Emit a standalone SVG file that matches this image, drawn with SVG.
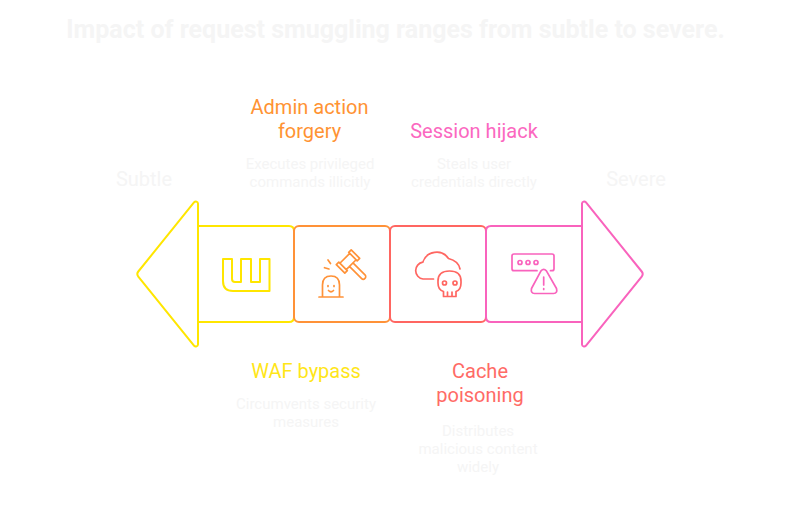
<svg xmlns="http://www.w3.org/2000/svg" width="792" height="506" viewBox="0 0 792 506">
<style>
text{font-family:Roboto,"Liberation Sans",sans-serif;text-anchor:middle}
.t{font-size:25px;font-weight:700;fill:#f5f5f5}
.h{font-size:20px}
.d{font-size:15px;fill:#f5f5f5}
.s{font-size:20px;fill:#f5f5f5}
.o{fill:none;stroke-width:2;stroke-linejoin:round;stroke-linecap:round}
.i{stroke-width:1.700}
.y{stroke:#ffe600}.r{stroke:#ff9238}.c{stroke:#ff6661}.p{stroke:#f963bd}
</style>
<rect width="792" height="506" fill="#fff"/>
<text class="t" x="395.500" y="38">Impact of request smuggling ranges from subtle to severe.</text>
<text class="s" x="144" y="186">Subtle</text>
<text class="s" x="636" y="186">Severe</text>
<g id="waf-bypass">
<path class="o y" d="M198 226V203.500A2.200 2.200 0 0 0 194.200 202.200L138.300 271.500A4 4 0 0 0 138.300 276.500L194.200 345.800A2.200 2.200 0 0 0 198 344.500V322"/>
<path class="o y" d="M198 226H289Q294 226 294 231V317Q294 322 289 322H198Z"/>
<path class="o y" d="M223 259H232V279Q232 282 235 282H241V259H251V282H260V259H269.500V291H233Q223 291 223 281Z"/>
<text class="h" x="306" y="378" fill="#ffe619">WAF bypass</text>
<text class="d" x="306" y="409">Circumvents security</text>
<text class="d" x="306" y="427">measures</text>
</g>
<g id="admin-action-forgery">
<rect class="o r" x="294" y="226" width="96" height="96" rx="5"/>
<path class="o i r" d="M319 297H343M322.500 297V285Q322.500 276 331 276Q339.500 276 339.500 285V297M328 285.500V286.500M334 285.500V286.500M328.500 290.500Q331 293 333.500 290.500M324.500 267.700L329 269M328 260L330.500 263.500"/>
<g transform="translate(348 261.500) rotate(-45)">
<path class="o i r" d="M-10.500 -6H-7V6H-10.500ZM7 -6H10.500V6H7ZM-7 -4.500H7V4.500H-7ZM-2.500 4.500V21.500A2.500 2.500 0 0 0 2.500 21.500V4.500"/>
</g>
<text class="h" x="309.500" y="114" fill="#ff9333">Admin action</text>
<text class="h" x="309.500" y="138" fill="#ff9333">forgery</text>
<text class="d" x="310" y="169">Executes privileged</text>
<text class="d" x="310" y="187">commands illicitly</text>
</g>
<g id="cache-poisoning">
<rect class="o c" x="390" y="226" width="96" height="96" rx="5"/>
<path class="o i c" d="M433.500 279H423A8.500 8.500 0 0 1 422.800 262.200A14.500 14.500 0 0 1 448.500 258.500Q458.500 261 460 269"/>
<path class="o i c" d="M443.500 296.500V291.500Q438 290 438 283V281Q438 271 449.500 271Q461 271 461 281V283Q461 290 456 291.500V296.500ZM447.500 292V296.500M452 292V296.500"/>
<circle class="o i c" cx="444.500" cy="283" r="2"/><circle class="o i c" cx="455" cy="283" r="2"/>
<text class="h" x="480" y="378" fill="#ff6b66">Cache</text>
<text class="h" x="480" y="402" fill="#ff6b66">poisoning</text>
<text class="d" x="478" y="436">Distributes</text>
<text class="d" x="478" y="454">malicious content</text>
<text class="d" x="478" y="472">widely</text>
</g>
<g id="session-hijack">
<path class="o p" d="M582 226H491Q486 226 486 231V317Q486 322 491 322H582Z"/>
<path class="o p" d="M582 226V203.500A2.200 2.200 0 0 1 585.800 202.200L641.700 271.500A4 4 0 0 1 641.700 276.500L585.800 345.800A2.200 2.200 0 0 1 582 344.500V322"/>
<path class="o i p" d="M537 270.700H514Q512 270.700 512 268.700V256Q512 254 514 254H552Q554 254 554 256V268.700Q554 270.700 552 270.700H550.500"/>
<circle class="o i p" cx="520" cy="262.500" r="2"/><circle class="o i p" cx="528" cy="262.500" r="2"/><circle class="o i p" cx="536" cy="262.500" r="2"/>
<path class="o i p" d="M541 270.800Q543.700 268 546.400 270.800L556.500 288.500Q557.800 293.300 553.500 293.500H534.500Q530.500 293.300 531.500 288.500ZM543.700 277V285M543.700 288.500V289.500"/>
<text class="h" x="474" y="138" fill="#fb68c0">Session hijack</text>
<text class="d" x="474" y="169">Steals user</text>
<text class="d" x="474" y="187">credentials directly</text>
</g>
</svg>
